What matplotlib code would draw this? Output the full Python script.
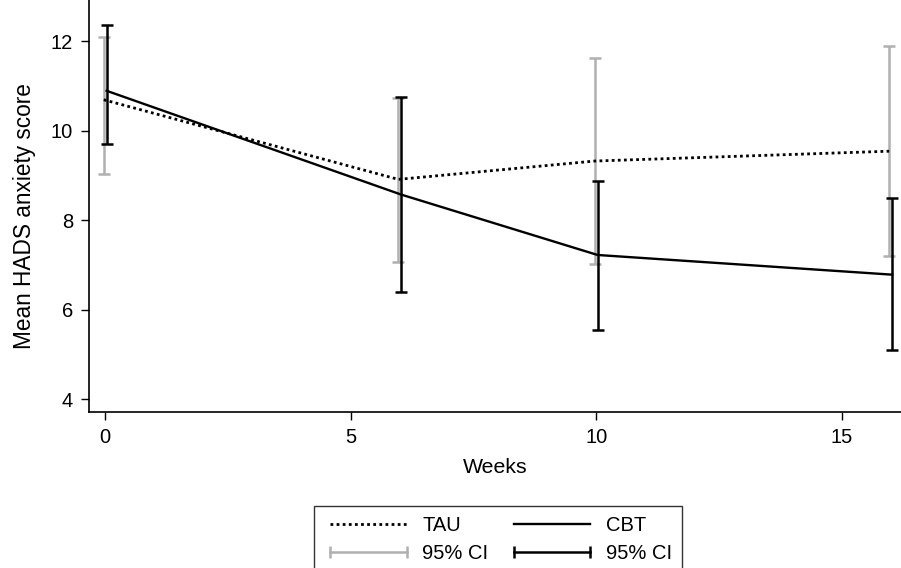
import matplotlib
matplotlib.use("Agg")
import matplotlib.pyplot as plt
from matplotlib.lines import Line2D

# values
weeks = [0, 6, 10, 16]
tau_mean = [10.69, 8.91, 9.32, 9.54]
tau_lo = [9.04, 7.07, 7.02, 7.19]
tau_hi = [12.10, 10.74, 11.63, 11.89]
cbt_mean = [10.89, 8.57, 7.22, 6.78]
cbt_lo = [9.71, 6.39, 5.55, 5.09]
cbt_hi = [12.36, 10.75, 8.88, 8.49]

plt.rcParams['font.family'] = ['Liberation Sans', 'DejaVu Sans']
plt.rcParams['font.size'] = 14.5

GREY = '#b0b0b0'
off = 0.03  # small horizontal shift between groups

fig = plt.figure(figsize=(9.01, 5.68), dpi=100)
ax = fig.add_axes([89 / 901, 1 - 412 / 568, 812 / 901, 412 / 568])

x_tau = [w - off for w in weeks]
x_cbt = [w + off for w in weeks]

tau_err = [[m - lo for m, lo in zip(tau_mean, tau_lo)],
           [hi - m for m, hi in zip(tau_mean, tau_hi)]]
cbt_err = [[m - lo for m, lo in zip(cbt_mean, cbt_lo)],
           [hi - m for m, hi in zip(cbt_mean, cbt_hi)]]

ax.errorbar(x_tau, tau_mean, yerr=tau_err, fmt='none', ecolor=GREY,
            elinewidth=1.8, capsize=4, capthick=1.8, zorder=2)
ax.errorbar(x_cbt, cbt_mean, yerr=cbt_err, fmt='none', ecolor='black',
            elinewidth=1.8, capsize=4, capthick=1.8, zorder=3)
ax.plot(x_tau, tau_mean, color='black', lw=2, linestyle=(0, (1, 1.2)), zorder=4)
ax.plot(x_cbt, cbt_mean, color='black', lw=1.7, zorder=4)

ax.set_xlim(-0.33, 16.21)
ax.set_ylim(3.71, 12.92)
ax.set_xticks([0, 5, 10, 15])
ax.set_yticks([4, 6, 8, 10, 12])
for s in ['top', 'right']:
    ax.spines[s].set_visible(False)
for s in ['left', 'bottom']:
    ax.spines[s].set_linewidth(1.2)
ax.tick_params(direction='out', length=6, width=1, pad=5.5)

ax.set_xlabel('Weeks', fontsize=15.3)
ax.set_ylabel('Mean HADS anxiety score', fontsize=16.3)
ax.xaxis.set_label_coords(0.5, -0.112)
ax.yaxis.set_label_coords(-0.065, 0.4745)

handles = [
    Line2D([], [], color='black', lw=2, linestyle=(0, (1, 1.2))),
    Line2D([], [], color=GREY, lw=1.8, marker='|', markersize=8, markeredgewidth=1.8),
    Line2D([], [], color='black', lw=1.7),
    Line2D([], [], color='black', lw=1.8, marker='|', markersize=8, markeredgewidth=1.8),
]
labels = ['TAU', '95% CI', 'CBT', '95% CI']
leg = fig.legend(handles, labels, loc='center', bbox_to_anchor=(498 / 901, 0.050),
                 ncol=2, numpoints=2, handlelength=4.42, fancybox=False,
                 frameon=True, edgecolor='black', borderpad=0.5,
                 labelspacing=0.42, columnspacing=0.94, handletextpad=0.45,
                 fontsize=14.5)
leg.get_frame().set_linewidth(1.0)

fig.savefig('out.png', dpi=100)
